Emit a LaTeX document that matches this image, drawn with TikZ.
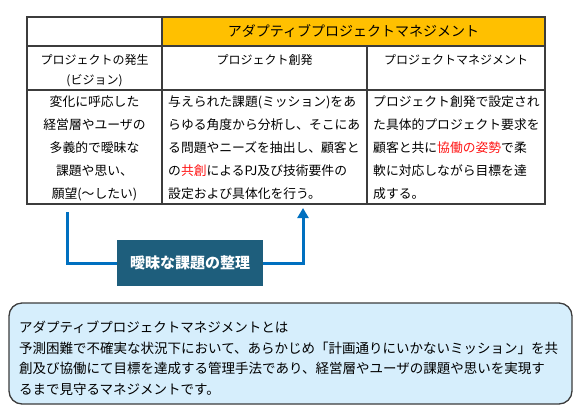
\documentclass[tikz,border=0pt]{standalone}
\usepackage{fontspec}
\setmainfont{Noto Sans CJK JP}
\usepackage{tikz}
\usetikzlibrary{arrows.meta,positioning}
\tikzset{every node/.append style={align=center}}
\definecolor{tableline}{RGB}{60, 60, 60}
\definecolor{headorange}{RGB}{255, 192, 0}
\definecolor{flowblue}{RGB}{0, 112, 192}
\definecolor{labelteal}{RGB}{30, 94, 124}
\definecolor{notefill}{RGB}{214, 238, 252}
\definecolor{accentred}{RGB}{255, 20, 20}

\begin{document}
\begin{tikzpicture}[
    x=1pt, y=-1pt,
    cell/.style={draw=tableline, line width=1.1pt, anchor=north west, inner sep=0pt, outer sep=0pt},
    celltext/.style={inner sep=0pt, font=\fontsize{12.8}{23}\selectfont},
    headtext/.style={inner sep=0pt, font=\fontsize{12}{20}\selectfont},
    flow/.style={draw=flowblue, line width=3pt},
    tagbox/.style={fill=labelteal, minimum width=146pt, minimum height=46pt, text=white, font=\bfseries\fontsize{15}{18}\selectfont},
    notebox/.style={draw=tableline, line width=1.3pt, fill=notefill, rounded corners=13pt, anchor=north west, minimum width=563pt, minimum height=101pt, outer sep=0pt}
]
    \useasboundingbox (0,0) rectangle (580,416);

    % Table - title row
    \node[cell, minimum width=135pt, minimum height=29pt] (blank) at (27,17) {};
    \node[cell, fill=headorange, minimum width=383pt, minimum height=29pt] (title) at (blank.north east) {};
    \node[font=\fontsize{14}{16}\selectfont] at (title.center) {アダプティブプロジェクトマネジメント};

    % Table - phase row
    \node[cell, minimum width=135pt, minimum height=44pt] (vision) at (blank.south west) {};
    \node[cell, minimum width=205pt, minimum height=44pt] (creation) at (vision.north east) {};
    \node[cell, minimum width=178pt, minimum height=44pt] (manage) at (creation.north east) {};
    \node[headtext, anchor=north] at ([yshift=-8pt]vision.north) {プロジェクトの発生\\(ビジョン)};
    \node[headtext, anchor=north] at ([yshift=-8pt]creation.north) {プロジェクト創発};
    \node[headtext, anchor=north] at ([yshift=-8pt]manage.north) {プロジェクトマネジメント};

    % Table - detail row
    \node[cell, minimum width=135pt, minimum height=114pt] (visionbody) at (vision.south west) {};
    \node[cell, minimum width=205pt, minimum height=114pt] (creationbody) at (visionbody.north east) {};
    \node[cell, minimum width=178pt, minimum height=114pt] (managebody) at (creationbody.north east) {};
    \node[celltext, anchor=north] at ([yshift=-6pt]visionbody.north)
        {変化に呼応した\\経営層やユーザの\\多義的で曖昧な\\課題や思い、\\願望(〜したい)};
    \node[celltext, anchor=north west, align=left] at ([xshift=6pt, yshift=-6pt]creationbody.north west)
        {与えられた課題(ミッション)をあ\\らゆる角度から分析し、そこにあ\\る問題やニーズを抽出し、顧客と\\の\textcolor{accentred}{共創}によるPJ及び技術要件の\\設定および具体化を行う。};
    \node[celltext, anchor=north west, align=left] at ([xshift=6pt, yshift=-6pt]managebody.north west)
        {プロジェクト創発で設定され\\た具体的プロジェクト要求を\\顧客と共に\textcolor{accentred}{協働の姿勢}で柔\\軟に対応しながら目標を達\\成する。};

    % Flow from vision to creation
    \node[tagbox] (sorting) at (190,263) {曖昧な課題の整理};
    \coordinate (visionout) at (67,212);
    \coordinate (creationin) at (303,208);
    \draw[flow] (visionout) |- (sorting.west);
    \draw[flow, -{Triangle[length=10pt, width=11pt]}] (sorting.east) -| (creationin);

    % Summary note
    \node[notebox] (summary) at (9,303) {};
    \node[inner sep=0pt, anchor=north west, align=left, font=\fontsize{13.5}{20.5}\selectfont] (summarytext) at ([xshift=10pt, yshift=-18pt]summary.north west)
        {アダプティブプロジェクトマネジメントとは\\予測困難で不確実な状況下において、あらかじめ「計画通りにいかないミッション」を共\\創及び協働にて目標を達成する管理手法であり、経営層やユーザの課題や思いを実現す\\るまで見守るマネジメントです。};
\end{tikzpicture}
\end{document}
